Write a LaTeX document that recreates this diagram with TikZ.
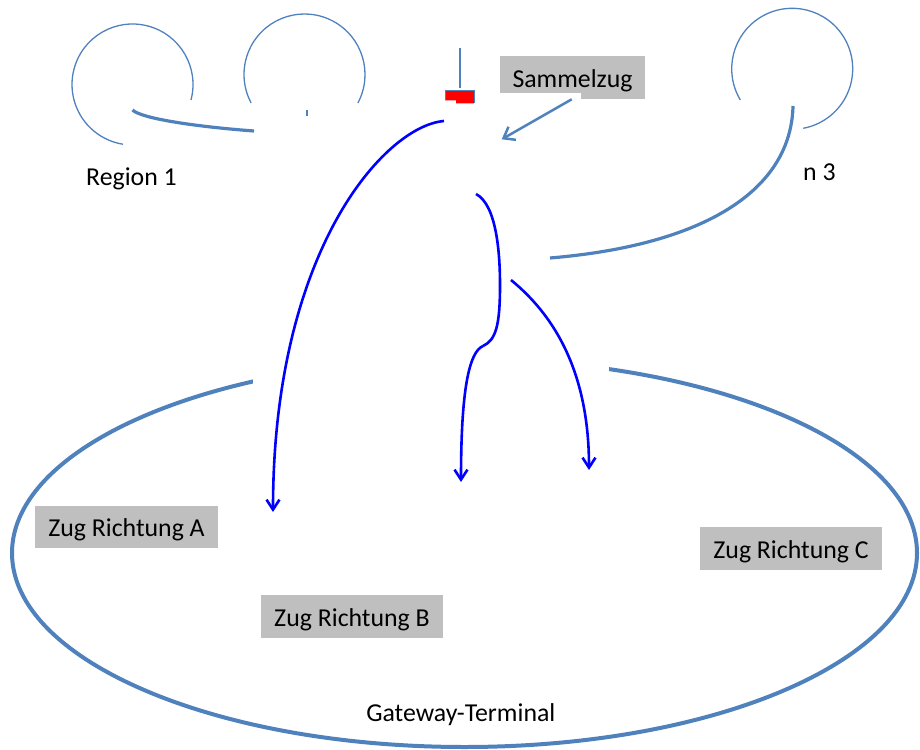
\documentclass[tikz,border=0pt]{standalone}
\usepackage{fontspec}
\setmainfont{Carlito}
\usetikzlibrary{arrows.meta}
\definecolor{acc}{HTML}{4F81BD}
\definecolor{boxgray}{HTML}{BFBFBF}
\definecolor{flow}{HTML}{0000FF}
\definecolor{marker}{HTML}{FF0000}
\tikzset{
  lbl/.style={inner sep=0pt, font=\fontsize{25.8}{30}\selectfont},
  gbox/.style={fill=boxgray, inner sep=0pt, minimum width=182.5, minimum height=42.5,
    text height=19.5pt, text depth=0pt, font=\fontsize{25.8}{30}\selectfont},
  ring/.style={acc, line width=1.3pt},
  feeder/.style={acc, line width=3.2pt},
  flowarrow/.style={flow, line width=2.6pt, -{Straight Barb[length=10pt,width=13pt]}},
  flowline/.style={flow, line width=2.6pt},
  callout/.style={acc, line width=2.5pt, -{Straight Barb[length=10pt,width=15pt]}},
}
\begin{document}
\begin{tikzpicture}[x=1pt,y=-1pt]
\useasboundingbox (0,0) rectangle (920,749);
% terminal ellipse with its top hidden
\draw[acc, line width=4pt] (464.5,553) ellipse [x radius=452.5, y radius=194];
\fill[white] (253,340) rectangle (609,405);
% region circles (partly hidden)
\draw[ring] (132.5,84.5) ++(14.8:60.5) arc[start angle=14.8, end angle=-260.8, radius=60.5];
\draw[ring] (304.5,74.5) ++(28.1:60.5) arc[start angle=28.1, end angle=-208.1, radius=60.5];
\draw[ring] (792.2,68.8) ++(-211:60.5) arc[start angle=-211, end angle=79.5, radius=60.5];
% feeder lines from the regions
\coordinate (f1s) at (132.5,110);
\coordinate (f1e) at (254,131);
\draw[feeder] (f1s) .. controls (142,119) and (200,127) .. (f1e);
\coordinate (f2s) at (307.3,110);
\coordinate (f2e) at (307.3,116);
\draw[acc, line width=2pt] (f2s) -- (f2e);
\coordinate (f3s) at (793,106);
\coordinate (f3e) at (550,258);
\draw[feeder] (f3s) .. controls (791,190) and (705,245) .. (f3e);
% signal marker
\coordinate (m0) at (460,48);
\coordinate (m1) at (460,88);
\draw[acc, line width=2pt] (m0) -- (m1);
\fill[marker] (445,91) -- (474,91) -- (474,103.5) -- (456,103.5) -- (456,100.5) -- (445,100.5) -- cycle;
\draw[acc, line width=1pt] (445,100.5) -- (445,90.5) -- (474.5,90.5) -- (474.5,103.5);
% Sammelzug label and its pointer
\node[gbox, minimum width=145, minimum height=43] (sz) at (572.5,77.5) {Sammelzug};
\fill[white] (499,92.7) rectangle (580.7,100.5);
\coordinate (s0) at (571.7,99.3);
\coordinate (s1) at (501.7,139.3);
\draw[callout] (s0) -- (s1);
% flows
\coordinate (a0) at (444,121);
\coordinate (a1) at (273,512);
\draw[flowarrow] (a0) .. controls (385,126) and (273,250) .. (a1);
\coordinate (b0) at (476,194);
\coordinate (bk) at (483,346);
\coordinate (b1) at (461,482);
\draw[flowline] (b0) .. controls (497,205) and (500,255) .. (500,285)
   .. controls (500,325) and (496,340) .. (bk);
\draw[flowarrow] (bk) .. controls (469,352) and (461,390) .. (b1);
\coordinate (c0) at (511,280);
\coordinate (c1) at (589,470);
\draw[flowarrow] (c0) .. controls (560,320) and (589,380) .. (c1);
% texts
\node[lbl, anchor=base west] (r1) at (86,185) {Region 1};
\node[lbl, anchor=base west] (r3) at (803,180) {n 3};
\node[lbl, anchor=base] (gw) at (460.8,721) {Gateway-Terminal};
\node[gbox] (za) at (126.5,527) {Zug Richtung A};
\node[gbox] (zb) at (352,616.3) {Zug Richtung B};
\node[gbox] (zc) at (791,548.3) {Zug Richtung C};
\end{tikzpicture}
\end{document}
